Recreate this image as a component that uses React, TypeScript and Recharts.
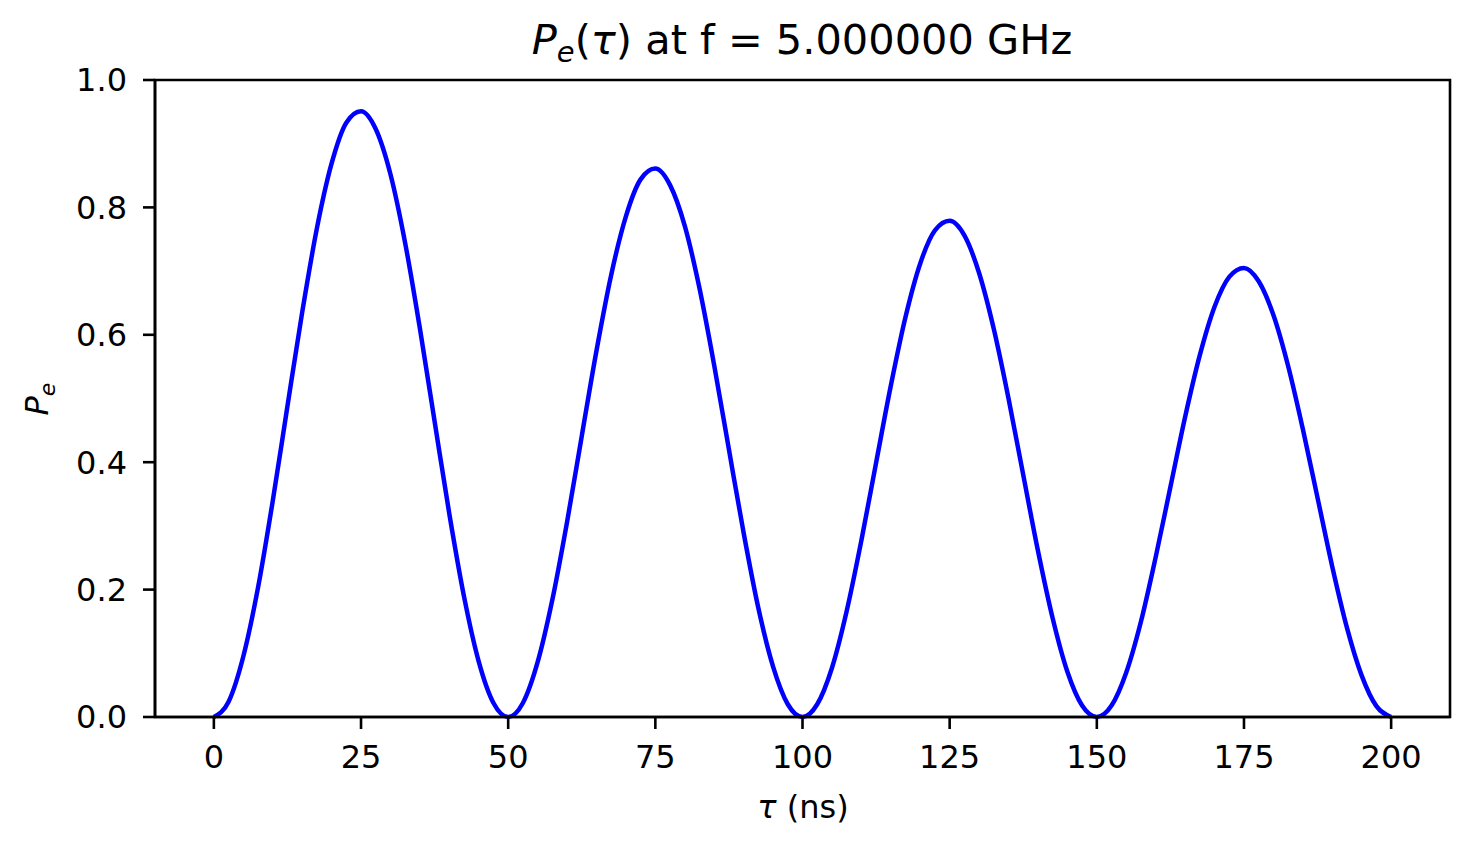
import { LineChart, Line, XAxis, YAxis, ReferenceArea } from 'recharts';

// excited-state population, every 2.5 ns
const tau = [
  0, 2.5, 5, 7.5, 10, 12.5, 15, 17.5, 20, 22.5,
  25, 27.5, 30, 32.5, 35, 37.5, 40, 42.5, 45, 47.5,
  50, 52.5, 55, 57.5, 60, 62.5, 65, 67.5, 70, 72.5,
  75, 77.5, 80, 82.5, 85, 87.5, 90, 92.5, 95, 97.5,
  100, 102.5, 105, 107.5, 110, 112.5, 115, 117.5, 120, 122.5,
  125, 127.5, 130, 132.5, 135, 137.5, 140, 142.5, 145, 147.5,
  150, 152.5, 155, 157.5, 160, 162.5, 165, 167.5, 170, 172.5,
  175, 177.5, 180, 182.5, 185, 187.5, 190, 192.5, 195, 197.5,
  200,
];
const pe = [
  0, 0.024, 0.095, 0.203, 0.339, 0.488, 0.635, 0.767, 0.869, 0.933,
  0.951, 0.923, 0.852, 0.744, 0.61, 0.464, 0.319, 0.189, 0.087, 0.022,
  0, 0.022, 0.086, 0.184, 0.306, 0.441, 0.575, 0.694, 0.786, 0.844,
  0.861, 0.835, 0.771, 0.673, 0.552, 0.42, 0.289, 0.171, 0.079, 0.02,
  0, 0.02, 0.077, 0.166, 0.277, 0.399, 0.52, 0.628, 0.712, 0.764,
  0.779, 0.756, 0.697, 0.609, 0.5, 0.38, 0.261, 0.155, 0.071, 0.018,
  0, 0.018, 0.07, 0.15, 0.251, 0.361, 0.471, 0.568, 0.644, 0.691,
  0.705, 0.684, 0.631, 0.551, 0.452, 0.344, 0.236, 0.14, 0.065, 0.017,
  0,
];
const xTicks = [0, 25, 50, 75, 100, 125, 150, 175, 200];
const yTicks = [0, 0.2, 0.4, 0.6, 0.8, 1.0];

const data = tau.map((t, i) => ({ t, p: pe[i] }));

const font = 'DejaVu Sans, sans-serif';
const tickStyle = { fontSize: 32, fill: '#000', fontFamily: font };

export default function App() {
  return (
    <div style={{ position: 'absolute', left: 0, top: 0, width: 1475, height: 850, background: '#fff' }}>
      <LineChart width={1475} height={850} data={data} margin={{ top: 80, right: 25, bottom: 73, left: 55 }}>
        <XAxis
          dataKey="t"
          type="number"
          domain={[-10, 210]}
          ticks={xTicks}
          tick={tickStyle}
          tickSize={12}
          tickMargin={16}
          height={60}
          stroke="#000"
          strokeWidth={2.6}
          allowDataOverflow
        />
        <YAxis
          type="number"
          domain={[0, 1]}
          ticks={yTicks}
          tick={tickStyle}
          tickFormatter={(v: number) => v.toFixed(1)}
          tickSize={12}
          tickMargin={16}
          width={100}
          stroke="#000"
          strokeWidth={2.6}
        />
        <ReferenceArea x1={-10} x2={210} y1={0} y2={1} fill="none" stroke="#000" strokeWidth={2.6} strokeOpacity={1} />
        <Line type="monotone" dataKey="p" stroke="#0000ff" strokeWidth={4.5} dot={false} isAnimationActive={false} />
      </LineChart>
      <svg width={1475} height={850} style={{ position: 'absolute', left: 0, top: 0, pointerEvents: 'none' }} fontFamily={font} fill="#000">
        <text x={802} y={54} fontSize={41.5} textAnchor="middle">
          <tspan fontStyle="italic">P</tspan>
          <tspan fontStyle="italic" fontSize={29} dy={8}>e</tspan>
          <tspan dy={-8}>(</tspan>
          <tspan fontStyle="italic">τ</tspan>
          <tspan>) at f = 5.000000 GHz</tspan>
        </text>
        <text x={803} y={818} fontSize={32} textAnchor="middle">
          <tspan fontStyle="italic">τ</tspan>
          <tspan> (ns)</tspan>
        </text>
        <text x={48} y={399} fontSize={32} textAnchor="middle" transform="rotate(-90 48 399)">
          <tspan fontStyle="italic">P</tspan>
          <tspan fontStyle="italic" fontSize={22} dy={7}>e</tspan>
        </text>
      </svg>
    </div>
  );
}
